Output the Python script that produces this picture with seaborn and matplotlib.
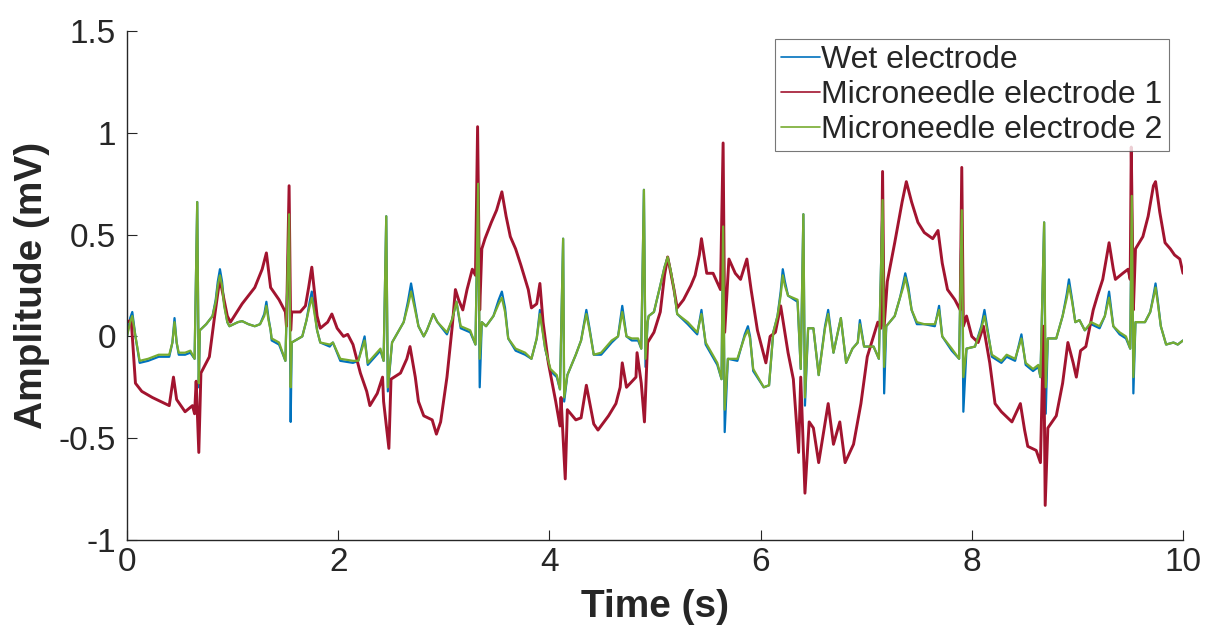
import matplotlib
matplotlib.use("Agg")
import matplotlib.pyplot as plt
import numpy as np
import pandas as pd
import seaborn as sns

# ---- ECG recordings (time in s, amplitude in mV) ----
# Wet electrode and microneedle electrode 2 share one time base
time_a = [
    0.00, 0.03, 0.05, 0.08, 0.12, 0.20, 0.30, 0.40, 0.43, 0.45, 0.47, 0.49, 0.55, 0.60, 0.64,
    0.665, 0.68, 0.69, 0.75, 0.81, 0.84, 0.86, 0.88, 0.90, 0.92, 0.95, 0.97, 1.05, 1.09, 1.15,
    1.21, 1.26, 1.30, 1.32, 1.34, 1.36, 1.37, 1.44, 1.50, 1.535, 1.55, 1.56, 1.66, 1.70, 1.73,
    1.75, 1.77, 1.80, 1.83, 1.92, 1.95, 2.02, 2.14, 2.19, 2.25, 2.28, 2.40, 2.43, 2.455, 2.47,
    2.51, 2.62, 2.66, 2.69, 2.72, 2.76, 2.81, 2.84, 2.90, 2.94, 3.03, 3.08, 3.12, 3.16, 3.25,
    3.30, 3.325, 3.34, 3.36, 3.40, 3.47, 3.52, 3.55, 3.58, 3.61, 3.68, 3.77, 3.83, 3.88, 3.91,
    3.96, 4.01, 4.07, 4.10, 4.13, 4.14, 4.17, 4.25, 4.30, 4.33, 4.35, 4.38, 4.42, 4.49, 4.59,
    4.65, 4.69, 4.73, 4.78, 4.84, 4.87, 4.895, 4.91, 4.93, 4.94, 4.99, 5.05, 5.09, 5.12, 5.15,
    5.18, 5.21, 5.31, 5.40, 5.44, 5.48, 5.59, 5.63, 5.645, 5.66, 5.69, 5.78, 5.85, 5.88, 5.90,
    5.93, 6.03, 6.08, 6.12, 6.16, 6.19, 6.21, 6.23, 6.26, 6.35, 6.38, 6.405, 6.42, 6.45, 6.50,
    6.55, 6.61, 6.64, 6.69, 6.76, 6.81, 6.87, 6.92, 6.94, 6.98, 7.07, 7.12, 7.155, 7.17, 7.19,
    7.27, 7.32, 7.35, 7.37, 7.40, 7.43, 7.48, 7.55, 7.65, 7.69, 7.72, 7.81, 7.88, 7.905, 7.92,
    7.95, 8.03, 8.09, 8.12, 8.15, 8.19, 8.28, 8.33, 8.41, 8.47, 8.51, 8.58, 8.63, 8.65, 8.685,
    8.70, 8.72, 8.80, 8.86, 8.90, 8.92, 8.95, 8.98, 9.02, 9.07, 9.13, 9.21, 9.26, 9.30, 9.34,
    9.40, 9.46, 9.50, 9.515, 9.53, 9.55, 9.64, 9.69, 9.72, 9.74, 9.76, 9.79, 9.84, 9.91, 9.95,
    10.00,
]

wet_electrode = [
    0.00, 0.09, 0.12, 0.00, -0.13, -0.12, -0.10, -0.10, -0.03, 0.09, -0.03, -0.09, -0.09, -0.08, -0.11,
    0.66, -0.25, 0.03, 0.06, 0.10, 0.18, 0.27, 0.33, 0.27, 0.16, 0.07, 0.05, 0.07, 0.075, 0.06,
    0.05, 0.06, 0.11, 0.17, 0.09, 0.03, -0.02, -0.04, -0.12, 0.60, -0.42, -0.03, 0.00, 0.08, 0.17,
    0.22, 0.15, 0.03, -0.03, -0.05, -0.03, -0.12, -0.13, -0.12, 0.00, -0.14, -0.07, -0.12, 0.59, -0.27,
    -0.03, 0.07, 0.17, 0.26, 0.17, 0.05, 0.00, 0.03, 0.11, 0.07, 0.01, 0.085, 0.17, 0.04, 0.02,
    -0.04, 0.75, -0.25, 0.07, 0.05, 0.10, 0.18, 0.22, 0.14, -0.01, -0.07, -0.09, -0.11, -0.01, 0.13,
    -0.06, -0.17, -0.20, -0.26, 0.48, -0.32, -0.19, -0.09, -0.02, 0.07, 0.13, 0.04, -0.09, -0.09, -0.03,
    0.00, 0.15, 0.00, -0.02, -0.02, -0.06, 0.72, -0.15, 0.07, 0.10, 0.12, 0.25, 0.34, 0.39, 0.32,
    0.23, 0.11, 0.06, 0.01, 0.13, -0.04, -0.14, -0.21, 0.54, -0.47, -0.11, -0.12, 0.01, 0.05, 0.00,
    -0.17, -0.25, -0.24, 0.02, 0.10, 0.22, 0.33, 0.27, 0.20, 0.17, -0.16, 0.60, -0.34, 0.04, 0.04,
    -0.19, 0.05, 0.13, -0.08, 0.09, -0.13, -0.06, -0.03, 0.08, -0.05, -0.05, -0.11, 0.67, -0.28, 0.05,
    0.10, 0.19, 0.26, 0.31, 0.24, 0.13, 0.06, 0.06, 0.05, 0.15, 0.00, -0.07, -0.11, 0.62, -0.37,
    -0.06, -0.05, 0.05, 0.13, 0.03, -0.10, -0.13, -0.10, -0.12, 0.01, -0.14, -0.17, -0.15, -0.20, 0.56,
    -0.38, -0.01, -0.01, 0.10, 0.21, 0.28, 0.18, 0.07, 0.08, 0.03, 0.06, 0.04, 0.10, 0.22, 0.05,
    0.01, -0.01, -0.06, 0.69, -0.28, 0.07, 0.07, 0.12, 0.20, 0.26, 0.18, 0.05, -0.04, -0.03, -0.04,
    -0.02,
]

microneedle_2 = [
    0.00, 0.07, 0.10, 0.00, -0.12, -0.11, -0.09, -0.09, -0.03, 0.07, -0.03, -0.08, -0.08, -0.07, -0.11,
    0.66, -0.23, 0.03, 0.06, 0.10, 0.17, 0.25, 0.30, 0.25, 0.15, 0.07, 0.05, 0.07, 0.075, 0.06,
    0.05, 0.06, 0.10, 0.15, 0.08, 0.03, -0.01, -0.03, -0.12, 0.60, -0.25, -0.03, 0.00, 0.08, 0.15,
    0.19, 0.13, 0.03, -0.03, -0.04, -0.03, -0.11, -0.12, -0.12, -0.02, -0.13, -0.06, -0.12, 0.59, -0.25,
    -0.03, 0.07, 0.15, 0.22, 0.15, 0.05, 0.00, 0.03, 0.11, 0.07, 0.02, 0.085, 0.17, 0.05, 0.03,
    -0.04, 0.75, -0.11, 0.07, 0.05, 0.10, 0.16, 0.19, 0.12, -0.01, -0.06, -0.08, -0.11, -0.01, 0.11,
    -0.06, -0.16, -0.19, -0.26, 0.48, -0.30, -0.19, -0.09, -0.02, 0.06, 0.11, 0.03, -0.09, -0.08, -0.02,
    0.00, 0.12, 0.00, -0.01, -0.01, -0.06, 0.72, -0.11, 0.07, 0.10, 0.12, 0.25, 0.34, 0.39, 0.32,
    0.23, 0.11, 0.07, 0.02, 0.11, -0.03, -0.13, -0.21, 0.54, -0.36, -0.11, -0.11, 0.00, 0.03, -0.01,
    -0.16, -0.25, -0.24, 0.02, 0.10, 0.20, 0.30, 0.25, 0.20, 0.18, -0.16, 0.60, -0.30, 0.04, 0.04,
    -0.19, 0.04, 0.11, -0.08, 0.09, -0.13, -0.06, -0.03, 0.06, -0.05, -0.05, -0.11, 0.67, -0.15, 0.05,
    0.10, 0.19, 0.24, 0.29, 0.22, 0.13, 0.07, 0.06, 0.06, 0.13, 0.00, -0.06, -0.11, 0.62, -0.20,
    -0.06, -0.05, 0.04, 0.10, 0.02, -0.09, -0.12, -0.09, -0.11, -0.01, -0.13, -0.16, -0.14, -0.20, 0.56,
    -0.25, -0.01, -0.01, 0.10, 0.19, 0.25, 0.17, 0.07, 0.08, 0.03, 0.07, 0.05, 0.10, 0.19, 0.05,
    0.02, 0.00, -0.06, 0.69, -0.20, 0.07, 0.07, 0.12, 0.19, 0.24, 0.17, 0.05, -0.04, -0.03, -0.04,
    -0.02,
]

# Microneedle electrode 1 (own time base)
time_b = [
    0.00, 0.04, 0.08, 0.14, 0.24, 0.36, 0.40, 0.44, 0.47, 0.55, 0.62, 0.64, 0.655, 0.68,
    0.70, 0.78, 0.83, 0.87, 0.88, 0.95, 0.98, 1.09, 1.21, 1.28, 1.32, 1.36, 1.44, 1.50,
    1.51, 1.535, 1.55, 1.56, 1.64, 1.69, 1.72, 1.75, 1.80, 1.83, 1.90, 1.94, 1.99, 2.05, 2.09,
    2.14, 2.21, 2.27, 2.30, 2.37, 2.42, 2.43, 2.48, 2.50, 2.59, 2.65, 2.68, 2.73, 2.76,
    2.81, 2.89, 2.93, 2.97, 3.03, 3.08, 3.11, 3.14, 3.18, 3.22, 3.27, 3.30, 3.32, 3.34,
    3.36, 3.39, 3.45, 3.50, 3.55, 3.59, 3.63, 3.68, 3.73, 3.80, 3.83, 3.88, 3.91, 3.94,
    3.99, 4.06, 4.10, 4.11, 4.15, 4.17, 4.25, 4.30, 4.35, 4.42, 4.46, 4.56, 4.63, 4.67,
    4.69, 4.73, 4.82, 4.83, 4.87, 4.90, 4.93, 4.99, 5.05, 5.09, 5.12, 5.15, 5.18, 5.21, 5.27,
    5.34, 5.38, 5.42, 5.44, 5.49, 5.55, 5.62, 5.645, 5.66, 5.70, 5.76, 5.81, 5.87, 5.91, 5.97,
    6.05, 6.09, 6.14, 6.19, 6.26, 6.31, 6.36, 6.38, 6.42, 6.46, 6.50, 6.55, 6.64, 6.69, 6.75,
    6.80, 6.88, 6.95, 7.01, 7.11, 7.14, 7.155, 7.17, 7.20, 7.27, 7.34, 7.38, 7.43, 7.49,
    7.55, 7.63, 7.68, 7.72, 7.77, 7.84, 7.89, 7.905, 7.92, 7.95, 8.00, 8.06, 8.11, 8.17,
    8.22, 8.28, 8.38, 8.46, 8.50, 8.53, 8.61, 8.65, 8.68, 8.695, 8.72, 8.80, 8.86, 8.91,
    8.96, 8.99, 9.03, 9.08, 9.15, 9.19, 9.24, 9.28, 9.30, 9.34, 9.36, 9.43, 9.48, 9.50, 9.51,
    9.53, 9.55, 9.62, 9.67, 9.72, 9.74, 9.78, 9.83, 9.88, 9.92, 9.97, 10.00,
]

microneedle_1 = [
    0.07, 0.08, -0.23, -0.27, -0.30, -0.33, -0.34, -0.20, -0.31, -0.37, -0.34, -0.38, -0.22, -0.57,
    -0.18, -0.10, 0.10, 0.25, 0.28, 0.10, 0.07, 0.16, 0.24, 0.33, 0.41, 0.24, 0.18, 0.12,
    0.05, 0.74, 0.03, 0.12, 0.12, 0.15, 0.24, 0.34, 0.10, 0.04, 0.07, 0.11, 0.04, 0.00, 0.01,
    -0.04, -0.18, -0.27, -0.34, -0.28, -0.20, -0.32, -0.55, -0.21, -0.18, -0.11, -0.05, -0.20, -0.32,
    -0.39, -0.41, -0.48, -0.42, -0.20, 0.05, 0.23, 0.18, 0.13, 0.23, 0.33, 0.30, 1.03, 0.13,
    0.43, 0.48, 0.56, 0.62, 0.71, 0.59, 0.49, 0.43, 0.35, 0.23, 0.14, 0.16, 0.26, 0.07,
    -0.13, -0.32, -0.44, -0.30, -0.70, -0.36, -0.41, -0.40, -0.24, -0.43, -0.46, -0.39, -0.33, -0.25,
    -0.13, -0.25, -0.20, -0.08, -0.23, -0.42, -0.03, 0.02, 0.12, 0.30, 0.39, 0.31, 0.23, 0.14, 0.18,
    0.25, 0.30, 0.40, 0.48, 0.31, 0.31, 0.23, 0.95, 0.02, 0.38, 0.31, 0.28, 0.38, 0.23, 0.03,
    -0.13, 0.00, 0.02, 0.15, -0.08, -0.21, -0.57, -0.20, -0.77, -0.42, -0.45, -0.62, -0.33, -0.53, -0.42,
    -0.62, -0.53, -0.33, -0.10, 0.07, 0.04, 0.81, 0.05, 0.27, 0.46, 0.66, 0.76, 0.66, 0.56,
    0.51, 0.48, 0.52, 0.36, 0.23, 0.18, 0.13, 0.83, 0.05, 0.10, 0.00, -0.03, 0.05, -0.13,
    -0.33, -0.37, -0.42, -0.33, -0.46, -0.54, -0.56, -0.62, 0.05, -0.83, -0.45, -0.39, -0.23, -0.03,
    -0.13, -0.20, -0.07, -0.05, 0.13, 0.20, 0.28, 0.40, 0.46, 0.33, 0.28, 0.31, 0.33, 0.28, 0.93,
    0.13, 0.43, 0.49, 0.59, 0.74, 0.76, 0.61, 0.46, 0.43, 0.40, 0.38, 0.31,
]

series_labels = ["Wet electrode", "Microneedle electrode 1", "Microneedle electrode 2"]
x_ticks = [0, 2, 4, 6, 8, 10]
y_ticks = [-1, -0.5, 0, 0.5, 1, 1.5]
y_tick_labels = ["-1", "-0.5", "0", "0.5", "1", "1.5"]

# ---- styling ----
sns.set_style("ticks")
plt.rcParams["font.family"] = ["Liberation Sans", "DejaVu Sans"]
plt.rcParams["axes.unicode_minus"] = False

colors = {"Wet electrode": "#0072BD",
          "Microneedle electrode 1": "#A2142F",
          "Microneedle electrode 2": "#77AC30"}
widths = {"Wet electrode": 1.6,
          "Microneedle electrode 1": 2.1,
          "Microneedle electrode 2": 1.6}

fig = plt.figure(figsize=(12.05, 6.39), dpi=100)
ax = fig.add_axes([127 / 1205, 1 - 540 / 639, (1183 - 127) / 1205, (540 - 31) / 639])

frames = {
    "Wet electrode": pd.DataFrame({"t": time_a, "v": wet_electrode}),
    "Microneedle electrode 1": pd.DataFrame({"t": time_b, "v": microneedle_1}),
    "Microneedle electrode 2": pd.DataFrame({"t": time_a, "v": microneedle_2}),
}
for name in series_labels:
    sns.lineplot(data=frames[name], x="t", y="v", ax=ax, color=colors[name],
                 linewidth=widths[name], estimator=None, sort=False, label=name)

ax.set_xlim(0, 10)
ax.set_ylim(-1, 1.5)
ax.set_xticks(x_ticks)
ax.set_xticklabels([str(t) for t in x_ticks])
ax.set_yticks(y_ticks)
ax.set_yticklabels(y_tick_labels)

for side in ("top", "right"):
    ax.spines[side].set_visible(False)
for side in ("left", "bottom"):
    ax.spines[side].set_color("#262626")
    ax.spines[side].set_linewidth(1.0)
ax.tick_params(direction="in", length=7, width=0.8, color="#262626",
               labelsize=24, labelcolor="#262626")
ax.tick_params(axis="y", pad=8)
ax.tick_params(axis="x", pad=5)

ax.set_xlabel("Time (s)", fontsize=28, fontweight="bold", labelpad=8)
ax.set_ylabel("Amplitude (mV)", fontsize=28, fontweight="bold", labelpad=6)

leg = ax.legend(loc="upper right", bbox_to_anchor=(1169 / 1205, 1 - 39 / 639),
                bbox_transform=fig.transFigure, borderaxespad=0, fontsize=23,
                handlelength=1.2, handletextpad=0.05, labelspacing=0.15,
                borderpad=0.2, frameon=True, fancybox=False)
leg.get_frame().set_edgecolor("#555555")
leg.get_frame().set_linewidth(0.8)
for line in leg.get_lines():
    line.set_linewidth(1.2)

fig.savefig("out.png", dpi=100, facecolor="white")
